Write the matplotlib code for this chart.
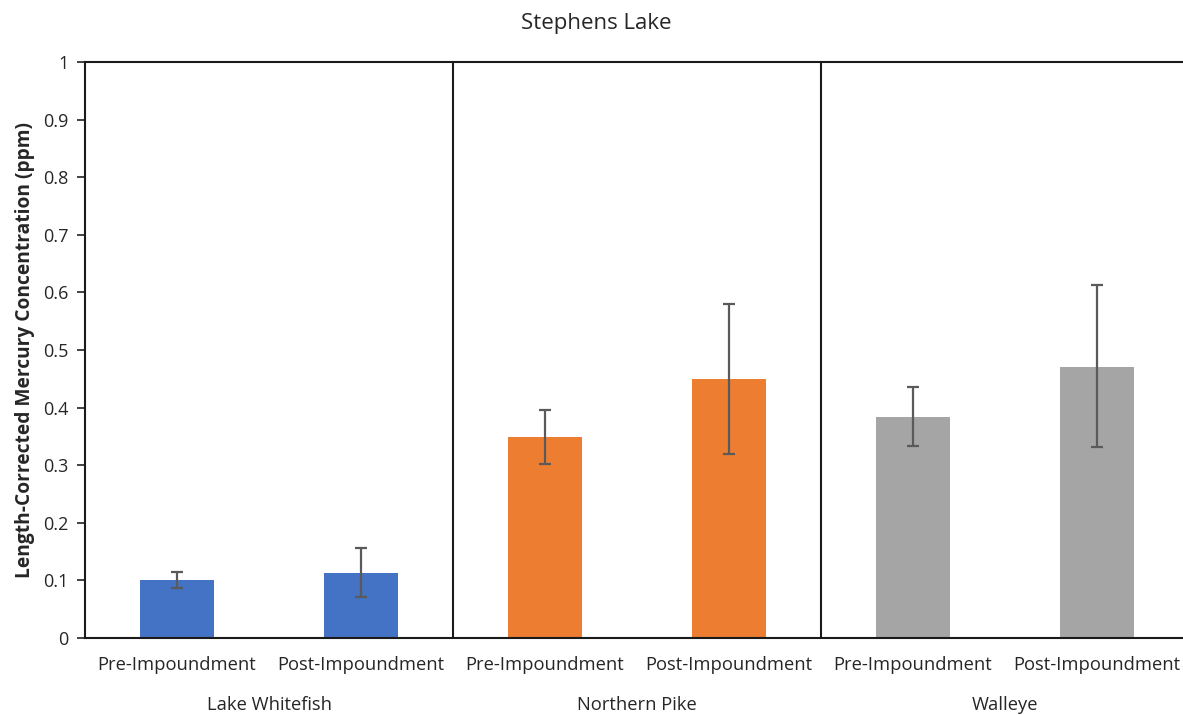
import numpy as np
import matplotlib
matplotlib.use('Agg')
import matplotlib.pyplot as plt

species = ['Lake Whitefish', 'Northern Pike', 'Walleye']
periods = ['Pre-Impoundment', 'Post-Impoundment']
mean_hg = [0.100, 0.113, 0.349, 0.449, 0.383, 0.470]
upper_ci = [0.114, 0.157, 0.395, 0.579, 0.436, 0.613]
lower_ci = [0.086, 0.072, 0.302, 0.319, 0.333, 0.332]
colors = ['#4472C4', '#4472C4', '#ED7D31', '#ED7D31', '#A5A5A5', '#A5A5A5']

plt.rcParams['font.family'] = ['Open Sans', 'DejaVu Sans']
text_col = '#262626'

fig = plt.figure(figsize=(11.83, 7.15), dpi=100)
ax = fig.add_axes([0.0719, 0.1077, 0.9332, 0.8056])

x = np.arange(len(mean_hg))
mean = np.array(mean_hg)
yerr = [mean - np.array(lower_ci), np.array(upper_ci) - mean]
ax.bar(x, mean, width=0.4, color=colors, zorder=2)
ax.errorbar(x, mean, yerr=yerr, fmt='none', ecolor='#5a5a5a', elinewidth=1.6,
            capsize=4, capthick=1.6, zorder=3)

ax.set_xlim(-0.5, len(mean_hg) - 0.5)
ax.set_ylim(0, 1)
ax.set_yticks(np.arange(0, 1.01, 0.1))
ax.set_yticklabels(['0'] + [f'{v:.1f}' for v in np.arange(0.1, 0.95, 0.1)] + ['1'])
ax.tick_params(axis='y', direction='out', length=6, width=1.2, colors='#222222',
               labelcolor=text_col, labelsize=13, pad=6)
ax.set_xticks([])

for side in ['left', 'top', 'bottom', 'right']:
    ax.spines[side].set_linewidth(1.5)
    ax.spines[side].set_color('#1a1a1a')

# group separators
for b in [1.5, 3.5]:
    ax.axvline(b, color='#1a1a1a', lw=1.5, zorder=1)

trans = ax.get_xaxis_transform()
for i in x:
    ax.text(i, -0.047, periods[i % 2], transform=trans, ha='center', va='center',
            fontsize=13.2, color=text_col)
for g, name in enumerate(species):
    ax.text(2 * g + 0.5, -0.117, name, transform=trans, ha='center', va='center',
            fontsize=13.2, color=text_col)

ax.set_ylabel('Length-Corrected Mercury Concentration (ppm)', fontsize=13.8,
              fontweight='bold', color=text_col, labelpad=6)
fig.text(596 / 1183, 1 - 24 / 715, 'Stephens Lake', ha='center', va='center',
         fontsize=16, color=text_col)

fig.savefig('out.png', dpi=100)
